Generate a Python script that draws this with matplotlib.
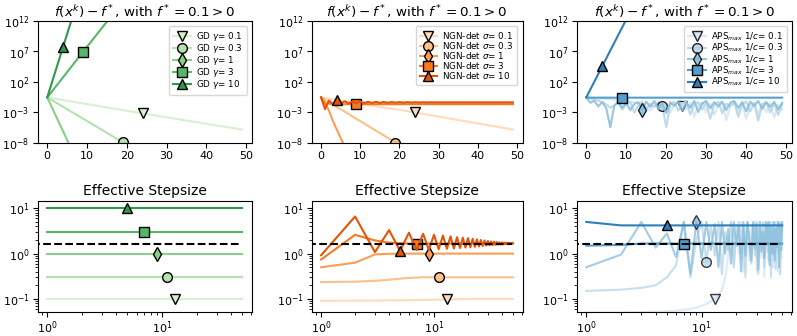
import numpy as np
import matplotlib
matplotlib.use("Agg")
import matplotlib.pyplot as plt
from matplotlib.ticker import NullLocator

# ---------------- data ----------------
params = [0.1, 0.3, 1, 3, 10]
top_marker_iter = [24, 19, 14, 9, 4]
bottom_marker_iter = [13, 11, 9, 7, 5]
fstar_dashed = 1.667  # 2/L reference line in stepsize panels

# GD: f(x^k)-f*  (straight on log scale)
gd_top_x = [[0, 24, 49], [0, 19, 49], [0, 14, 49], [0, 9, 49], [0, 4, 49]]
gd_top_y = [[3e-1, 7e-4, 1.6e-6], [3e-1, 1.3e-8, 3e-20], [3e-1, 8e-21, 1e-69],
            [3e-1, 8.9e6, 1e40], [3e-1, 6.4e7, 3e101]]
# GD: effective stepsize (constant = gamma)
gd_bot_x = [[1, 13, 50], [1, 11, 50], [1, 9, 50], [1, 7, 50], [1, 5, 50]]
gd_bot_y = [[0.1, 0.1, 0.1], [0.3, 0.3, 0.3], [1, 1, 1], [3, 3, 3], [10, 10, 10]]

# NGN-det top
ngn_top_x = [
    [0, 24, 49],
    [0, 19, 49],
    [0, 1, 2, 3, 4, 5, 6, 7, 14, 49],
    list(range(0, 50)),
    list(range(0, 50)),
]
ngn_s3_top = [3e-1, 2.5e-2, 3.2e-2, 2.4e-2, 2.3e-2] + [2.3e-2] * 45
ngn_s10_top = [3e-1, 3.6e-3, 9e-2, 2.5e-2, 1.15e-1, 2.8e-2, 7.0e-2, 3.2e-2, 6.3e-2, 3.4e-2,
               6.0e-2, 3.6e-2, 5.6e-2, 3.8e-2, 5.4e-2, 3.9e-2, 5.2e-2, 4.0e-2, 5.1e-2, 4.1e-2,
               5.0e-2, 4.2e-2, 4.9e-2, 4.3e-2, 4.8e-2, 4.35e-2, 4.75e-2, 4.4e-2, 4.7e-2, 4.45e-2,
               4.65e-2, 4.5e-2, 4.6e-2, 4.55e-2, 4.6e-2, 4.55e-2, 4.6e-2, 4.55e-2, 4.6e-2, 4.55e-2,
               4.57e-2, 4.57e-2, 4.57e-2, 4.57e-2, 4.57e-2, 4.57e-2, 4.57e-2, 4.57e-2, 4.57e-2, 4.57e-2]
ngn_top_y = [
    [3e-1, 1e-3, 1.6e-6],
    [3e-1, 1.2e-8, 1e-20],
    [3e-1, 4.1e-2, 2.0e-3, 4e-5, 1.6e-6, 6.4e-8, 2.6e-9, 1e-10, 1e-20, 1e-60],
    ngn_s3_top,
    ngn_s10_top,
]
# NGN-det effective stepsize, iterations 1..50
iters_b = list(range(1, 51))
ngn_s01_bot = [0.091, 0.0915, 0.092, 0.0925, 0.093, 0.0935, 0.094, 0.0945, 0.095, 0.0955,
               0.096, 0.0965, 0.097, 0.0975, 0.098, 0.0985, 0.099, 0.099, 0.0995, 0.0995] + [0.1] * 30
ngn_s03_bot = [0.235, 0.24, 0.25, 0.265, 0.28, 0.29, 0.295] + [0.3] * 43
ngn_s1_bot = [0.5, 0.63, 0.96, 0.99] + [1.0] * 46
ngn_s3_bot = [0.74, 2.6, 1.95, 1.75, 1.7] + [1.667] * 45
ngn_s10_bot = [0.92, 6.6, 1.08, 3.3, 1.15, 2.9, 1.2, 2.75, 1.22, 2.6,
               1.25, 2.5, 1.28, 2.4, 1.3, 2.3, 1.33, 2.25, 1.36, 2.2,
               1.38, 2.12, 1.41, 2.06, 1.44, 2.0, 1.47, 1.95, 1.5, 1.9,
               1.52, 1.86, 1.54, 1.83, 1.56, 1.8, 1.58, 1.78, 1.59, 1.76,
               1.6, 1.75, 1.61, 1.74, 1.62, 1.73, 1.62, 1.72, 1.63, 1.71]
ngn_bot_y = [ngn_s01_bot, ngn_s03_bot, ngn_s1_bot, ngn_s3_bot, ngn_s10_bot]

# APS_max top
aps_c01_top = [3e-1, 2.65e-1, 2.35e-1, 2.1e-1, 1.85e-1, 1.65e-1, 1.45e-1, 1.3e-1, 1.1e-1, 9.5e-2,
               8e-2, 6.5e-2, 5e-2, 3.5e-2, 2e-2, 8e-3, 2e-3, 1e-2, 4e-2, 5e-3,
               3e-2, 1e-3, 2e-2, 6e-2, 1.2e-2, 3e-3, 4e-2, 2e-4, 1.5e-2, 5e-2,
               1e-3, 3e-2, 4e-4, 2e-2, 6e-2, 5e-5, 1e-2, 4e-2, 2e-3, 3e-2,
               1e-4, 1.5e-2, 5e-2, 6e-4, 3e-2, 1e-3, 4e-2, 1.5e-4, 2e-2, 3e-3]
aps_c03_top = [3e-1, 2e-1, 1.4e-1, 9e-2, 5e-2, 2.2e-2, 6e-3, 1.5e-2, 4e-2, 3e-3,
               2e-2, 5e-2, 1e-3, 1.5e-2, 6e-2, 4e-3, 3e-2, 8e-3, 5e-2, 1.3e-2,
               4e-6, 2e-2, 6e-2, 2e-3, 3e-2, 7e-2, 5e-4, 2e-2, 5e-2, 3e-3,
               4e-2, 1e-4, 2e-2, 6e-2, 8e-4, 3e-2, 1e-2, 5e-2, 2e-4, 2e-2,
               6e-2, 1.5e-3, 3e-2, 5e-5, 2e-2, 5e-2, 1e-3, 3e-2, 4e-4, 2e-2]
aps_c1_top = [3e-1, 4e-2, 8e-2, 1e-2, 5e-2, 5e-3, 4e-6, 1.2e-2, 6e-2, 6e-3,
              4e-2, 2.5e-3, 2.5e-2, 5e-2, 2.8e-3, 6e-2, 8e-3, 8e-2, 4e-3, 3e-2,
              8e-4, 5e-2, 1.2e-2, 6e-2, 2e-3, 4e-2, 6e-3, 8e-2, 1.2e-3, 3e-2,
              8e-2, 5e-3, 5e-2, 1e-2, 6e-2, 2.5e-3, 4e-2, 8e-2, 6e-3, 5e-2,
              1.6e-3, 6e-2, 1.2e-2, 8e-2, 4e-3, 5e-2, 8e-3, 6e-2, 3e-3, 4e-2]
aps_top_x = [list(range(0, 50)), list(range(0, 50)), list(range(0, 50)),
             [0, 1, 9, 49], [0, 4, 49]]
aps_top_y = [aps_c01_top, aps_c03_top, aps_c1_top,
             [3e-1, 2.7e-1, 2.7e-1, 2.7e-1], [3e-1, 4e4, 1e62]]

aps_c01_bot = [0.05, 0.05, 0.051, 0.052, 0.053, 0.055, 0.057, 0.06, 0.064, 0.07,
               0.078, 0.088, 0.1, 0.12, 0.16, 0.3, 0.9, 5.0, 0.6, 4.0,
               1.0, 5.0, 0.4, 3.0, 5.0, 0.7, 4.0, 1.5, 5.0, 0.4,
               3.0, 5.0, 0.8, 4.5, 0.3, 5.0, 1.1, 3.5, 0.6, 5.0,
               2.0, 0.5, 4.5, 1.0, 5.0, 0.4, 3.0, 5.0, 0.8, 4.0]
aps_c03_bot = [0.15, 0.16, 0.175, 0.2, 0.3, 0.55, 5.0, 0.3, 2.0, 5.0,
               0.65, 4.0, 0.9, 5.0, 0.35, 3.0, 1.2, 5.0, 0.5, 2.5,
               5.0, 0.8, 4.0, 0.3, 5.0, 1.5, 0.6, 4.5, 0.9, 5.0,
               0.35, 3.5, 1.8, 5.0, 0.5, 2.0, 4.5, 0.7, 5.0, 0.3,
               3.0, 1.0, 5.0, 0.45, 4.0, 1.2, 5.0, 0.35, 2.5, 4.5]
aps_c1_bot = [0.5, 0.95, 5.0, 1.36, 2.8, 0.84, 5.0, 0.36, 5.0, 0.8,
              5.0, 1.2, 4.5, 0.5, 5.0, 1.0, 3.5, 0.6, 5.0, 1.5,
              4.0, 0.4, 5.0, 0.9, 5.0, 2.0, 0.7, 5.0, 1.3, 4.5,
              0.45, 5.0, 1.1, 3.0, 0.8, 5.0, 1.6, 5.0, 0.55, 4.0,
              1.0, 5.0, 0.7, 3.5, 1.4, 5.0, 0.5, 4.5, 1.2, 5.0]
aps_bot_x = [iters_b, iters_b, iters_b, [1, 2, 3, 7, 50], [1, 2, 5, 50]]
aps_bot_y = [aps_c01_bot, aps_c03_bot, aps_c1_bot,
             [1.5, 1.55, 1.667, 1.667, 1.667], [5.0, 4.2, 4.2, 4.2]]

# ---------------- style ----------------
markers = ['v', 'o', 'd', 's', '^']
plt.rcParams['font.family'] = ['DejaVu Sans']
plt.rcParams['mathtext.fontset'] = 'dejavusans'

fig = plt.figure(figsize=(7.97, 3.36), dpi=100)
W, H = 797, 336

def ax_at(x0, x1, y0, y1):
    return fig.add_axes([x0 / W, 1 - y1 / H, (x1 - x0) / W, (y1 - y0) / H])

cols = [(37.5, 252), (311.5, 522.5), (576.5, 792)]
top_axes = [ax_at(c[0], c[1], 21, 143) for c in cols]
bot_axes = [ax_at(c[0], c[1], 201, 312) for c in cols]

cmaps = [plt.cm.Greens, plt.cm.Oranges, plt.cm.Blues]
names = ['GD $\\gamma$= {}', 'NGN-det $\\sigma$= {}', 'APS$_{{max}}$ 1/$c$= {}']
tops = [(gd_top_x, gd_top_y), (ngn_top_x, ngn_top_y), (aps_top_x, aps_top_y)]
bots = [(gd_bot_x, gd_bot_y), ([iters_b] * 5, ngn_bot_y), (aps_bot_x, aps_bot_y)]

title_top = r'$f(x^k) - f^*$, with $f^* = 0.1 > 0$'

for j in range(3):
    colors = cmaps[j](np.linspace(0.18, 0.7, 5))
    ax = top_axes[j]
    xs, ys = tops[j]
    for i in range(5):
        x = xs[i]
        mi = x.index(top_marker_iter[i])
        alpha = 0.85 if (j == 2 and i < 3) else 1.0
        ax.plot(x, ys[i], color=colors[i], lw=1.5, alpha=alpha, marker=markers[i],
                markevery=[mi], markersize=7, markeredgecolor='black',
                markerfacecolor=colors[i], markeredgewidth=1.0,
                label=names[j].format(params[i]))
    ax.set_yscale('log')
    ax.set_ylim(1e-8, 1e12)
    ax.set_xlim(-2.45, 51.45)
    ax.set_yticks([1e-8, 1e-3, 1e2, 1e7, 1e12])
    ax.yaxis.set_minor_locator(NullLocator())
    ax.set_xticks([0, 10, 20, 30, 40, 50])
    ax.tick_params(labelsize=8, pad=2.5)
    ax.set_title(title_top, fontsize=9.7, pad=3)
    leg = ax.legend(loc='upper right', fontsize=6.3, handlelength=2.0, labelspacing=-0.12,
                    borderpad=0.45, handletextpad=0.6, framealpha=0.8,
                    borderaxespad=0.6)

    ax = bot_axes[j]
    xs, ys = bots[j]
    for i in range(5):
        x = xs[i]
        mi = x.index(bottom_marker_iter[i])
        alpha = 0.75 if (j == 2 and i < 3) else 1.0
        ax.plot(x, ys[i], color=colors[i], lw=1.5, alpha=alpha, marker=markers[i],
                markevery=[mi], markersize=7, markeredgecolor='black',
                markerfacecolor=colors[i], markeredgewidth=1.0)
    ax.plot([1e-3, 49], [fstar_dashed, fstar_dashed], color='black', ls='--', lw=1.5)
    ax.set_xscale('log')
    ax.set_yscale('log')
    ax.set_xlim(10 ** -0.085, 10 ** 1.784)
    ax.set_ylim(10 ** -1.29, 10 ** 1.162)
    ax.set_yticks([0.1, 1, 10])
    ax.set_xticks([1, 10])
    ax.tick_params(labelsize=8, pad=2)
    ax.set_title('Effective Stepsize', fontsize=10, pad=4)

fig.savefig('out.png', dpi=100)
